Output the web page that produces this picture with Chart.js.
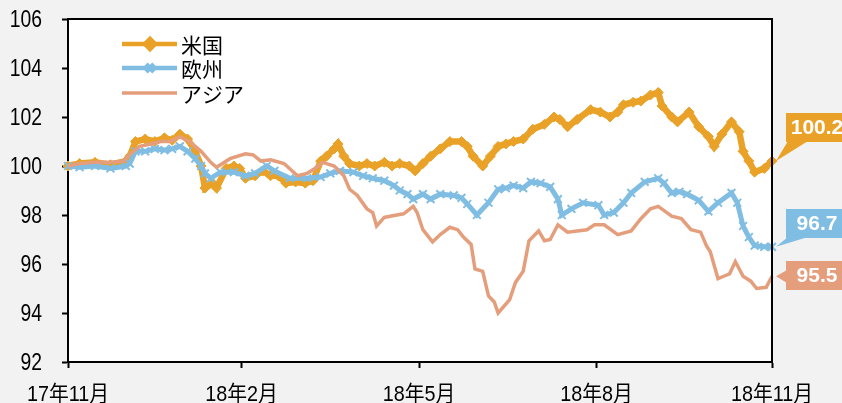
<!DOCTYPE html>
<html>
<head>
<meta charset="utf-8">
<script src="https://cdn.jsdelivr.net/npm/chart.js@4/dist/chart.umd.min.js"></script>
<style>
  html, body { margin: 0; padding: 0; background: #f2f2f2; }
</style>
</head>
<body>
<canvas id="myChart" width="842" height="403"></canvas>
<script>
// x = days since 2017-11-01
const tickDays = [0, 90, 182, 274, 365];
const tickLabels = ["17年11月", "18年2月", "18年5月", "18年8月", "18年11月"];
const yTicks = [92, 94, 96, 98, 100, 102, 104, 106];
const seriesNames = ["米国", "欧州", "アジア"];
const seriesColors = ["#e9a227", "#80bde3", "#e59e7c"];

const usDays = [0,6,14,22,30,32,35,40,45,50,54,58,62,66,69,71,75,77,82,86,89,92,97,101,105,109,113,118,123,127,131,134,138,140,143,146,151,155,159,164,168,172,177,180,184,188,193,198,204,207,210,215,219,223,227,231,236,241,247,252,255,259,264,271,276,281,285,288,293,297,302,306,308,313,316,322,327,332,335,339,344,348,350,353,356,361,365];
const usValues = [100.0,100.1,100.15,100.05,100.2,100.4,101.0,101.1,101.0,101.15,101.05,101.3,101.1,100.6,100.0,99.1,99.3,99.1,99.9,100.0,99.9,99.5,99.6,99.8,99.6,99.6,99.3,99.35,99.3,99.4,100.2,100.4,100.7,100.9,100.4,100.1,100.0,100.1,100.0,100.15,100.0,100.1,100.0,99.8,100.1,100.4,100.7,101.0,101.0,100.8,100.4,100.0,100.4,100.8,100.9,101.0,101.1,101.5,101.7,102.0,101.9,101.6,101.9,102.3,102.2,102.0,102.2,102.5,102.6,102.65,102.9,103.0,102.45,102.0,101.8,102.2,101.6,101.2,100.8,101.3,101.8,101.4,100.6,100.2,99.75,99.9,100.2];

const euDays = [0,6,14,22,30,32,35,40,45,50,54,58,62,66,69,71,74,79,86,92,97,103,107,115,124,131,136,141,148,153,158,164,169,172,176,179,184,188,193,200,204,207,212,218,223,227,231,236,240,245,250,254,256,261,267,275,278,283,288,292,299,306,309,313,317,321,327,332,337,344,347,350,353,356,361,365];
const euValues = [100.0,99.95,100.0,99.9,100.0,100.1,100.6,100.6,100.7,100.65,100.7,100.8,100.6,100.3,100.0,99.7,99.5,99.75,99.75,99.6,99.7,100.0,99.8,99.5,99.5,99.55,99.7,99.8,99.75,99.6,99.5,99.4,99.2,99.0,98.85,98.65,98.85,98.65,98.85,98.8,98.7,98.45,98.0,98.5,99.05,99.1,99.2,99.1,99.35,99.3,99.15,98.65,98.0,98.25,98.5,98.4,98.0,98.1,98.5,98.9,99.35,99.5,99.3,98.9,98.95,98.85,98.6,98.15,98.5,98.9,98.5,97.55,97.1,96.75,96.7,96.7];

const asDays = [0,6,14,22,29,31,37,43,48,53,58,63,69,74,77,84,92,96,100,105,112,119,124,128,132,138,143,146,150,155,158,160,164,167,174,179,181,184,189,193,198,202,205,209,211,215,218,221,223,229,232,236,239,244,247,250,254,259,264,269,273,278,285,292,297,302,306,313,318,323,328,331,333,337,340,343,346,350,354,357,362,365];
const asValues = [100.0,100.1,100.15,100.15,100.2,100.4,100.8,100.9,101.0,101.0,101.2,101.0,100.6,100.15,99.95,100.3,100.5,100.45,100.2,100.25,100.1,99.6,99.7,99.9,100.15,100.0,99.6,99.05,98.8,98.25,98.1,97.55,97.9,97.95,98.05,98.35,98.1,97.4,96.9,97.2,97.5,97.4,97.1,96.8,95.8,95.7,94.7,94.45,94.0,94.55,95.25,95.7,96.95,97.35,96.95,97.0,97.6,97.3,97.35,97.4,97.6,97.6,97.2,97.35,97.85,98.25,98.35,97.95,97.85,97.4,97.3,96.75,96.5,95.4,95.5,95.6,96.1,95.5,95.3,95.0,95.05,95.5];

const endLabels = ["100.2", "96.7", "95.5"];

function toPoints(days, values) {
  return days.map((d, i) => ({ x: d, y: values[i] }));
}

const LABEL_FONT = "'Liberation Sans', 'Noto Sans CJK JP', sans-serif";

// narrow-looking text: draw with a horizontal squeeze
function squeezedText(ctx, text, x, y, align, sx) {
  ctx.save();
  ctx.translate(x, y);
  ctx.scale(sx, 1);
  ctx.textAlign = align;
  ctx.fillText(text, 0, 0);
  ctx.restore();
}

const chartDecor = {
  id: "chartDecor",
  beforeDraw(chart) {
    const { ctx, chartArea: a } = chart;
    ctx.save();
    ctx.fillStyle = "#f2f2f2";
    ctx.fillRect(0, 0, chart.width, chart.height);
    ctx.fillStyle = "#ffffff";
    ctx.fillRect(a.left, a.top, a.right - a.left, a.bottom - a.top);
    ctx.restore();
  },
  afterDraw(chart) {
    const { ctx, chartArea: a } = chart;
    const xs = chart.scales.x, ys = chart.scales.y;
    ctx.save();
    // frame top / right
    ctx.strokeStyle = "#000";
    ctx.lineWidth = 2;
    ctx.beginPath();
    ctx.moveTo(a.left, a.top);
    ctx.lineTo(a.right, a.top);
    ctx.lineTo(a.right, a.bottom);
    ctx.stroke();

    // axis labels
    ctx.fillStyle = "#000";
    ctx.textBaseline = "alphabetic";
    ctx.font = "23px " + LABEL_FONT;
    yTicks.forEach(v => {
      squeezedText(ctx, String(v), 42, ys.getPixelForValue(v) + 8, "right", 0.84);
    });
    ctx.font = "22px " + LABEL_FONT;
    tickDays.forEach((d, i) => {
      squeezedText(ctx, tickLabels[i], xs.getPixelForValue(d), 401, "center", 0.9);
    });

    // legend
    const rows = [44, 68, 93];
    chart.data.datasets.forEach((ds, i) => {
      const y = rows[i];
      ctx.strokeStyle = ds.borderColor;
      ctx.lineWidth = Math.min(ds.borderWidth, 4.5);
      ctx.beginPath();
      ctx.moveTo(122, y);
      ctx.lineTo(177, y);
      ctx.stroke();
      if (ds.pointRadius > 0) {
        ctx.fillStyle = ds.pointBackgroundColor;
        ctx.strokeStyle = ds.pointBorderColor;
        Chart.helpers.drawPoint(ctx, {
          pointStyle: ds.pointStyle, radius: ds.pointRadius, borderWidth: ds.pointBorderWidth, rotation: 0
        }, 150, y);
      }
      ctx.fillStyle = "#000";
      ctx.font = "21px 'Noto Sans CJK JP', sans-serif";
      ctx.textBaseline = "middle";
      ctx.textAlign = "left";
      ctx.fillText(ds.label, 181, y + 1);
    });

    // end value call-outs
    const boxTops = [113, 209, 261];
    const boxH = 29;
    const boxL = 786;
    chart.data.datasets.forEach((ds, i) => {
      const meta = chart.getDatasetMeta(i);
      const last = meta.data[meta.data.length - 1];
      const tx = last.x + 4, ty = last.y;
      const top = boxTops[i];
      ctx.fillStyle = seriesColors[i];
      ctx.beginPath();
      if (i === 2) {
        ctx.moveTo(boxL + 1, top + 9);
        ctx.lineTo(tx, ty);
        ctx.lineTo(boxL + 1, top + 22);
      } else {
        ctx.moveTo(boxL + 2, top + boxH - 1);
        ctx.lineTo(tx, ty);
        ctx.lineTo(boxL + 22, top + boxH - 1);
      }
      ctx.closePath();
      ctx.fill();
      ctx.fillRect(boxL, top, 70, boxH);
      ctx.fillStyle = "#fff";
      ctx.font = "bold 21px 'Liberation Sans', Arial, sans-serif";
      ctx.textAlign = "center";
      ctx.textBaseline = "middle";
      ctx.fillText(endLabels[i], 817, top + boxH / 2 + 1);
    });
    ctx.restore();
  }
};

new Chart("myChart", {
  type: "line",
  data: {
    datasets: [
      {
        label: seriesNames[0],
        data: toPoints(usDays, usValues),
        borderColor: seriesColors[0],
        borderWidth: 6.5,
        pointStyle: "rectRot",
        pointRadius: 5,
        pointBackgroundColor: seriesColors[0],
        pointBorderColor: seriesColors[0],
        pointBorderWidth: 1,
        order: 3,
        clip: false
      },
      {
        label: seriesNames[1],
        data: toPoints(euDays, euValues),
        borderColor: seriesColors[1],
        borderWidth: 5,
        pointStyle: "crossRot",
        pointRadius: 5.5,
        pointBackgroundColor: seriesColors[1],
        pointBorderColor: seriesColors[1],
        pointBorderWidth: 2,
        order: 2,
        clip: false
      },
      {
        label: seriesNames[2],
        data: toPoints(asDays, asValues),
        borderColor: seriesColors[2],
        borderWidth: 3.5,
        pointRadius: 0,
        order: 1,
        clip: false
      }
    ]
  },
  options: {
    responsive: false,
    animation: false,
    events: [],
    layout: { padding: { left: 0, right: 70, top: 19, bottom: 0 } },
    plugins: {
      legend: { display: false },
      tooltip: { enabled: false }
    },
    scales: {
      x: {
        type: "linear",
        min: 0,
        max: 365,
        afterBuildTicks(scale) {
          scale.ticks = tickDays.map(v => ({ value: v }));
        },
        afterFit(scale) {
          scale.height = 41;
          scale.paddingLeft = 0;
          scale.paddingRight = 0;
        },
        ticks: { display: false },
        grid: { drawOnChartArea: false, drawTicks: true, tickLength: 6, color: "#000", tickWidth: 2 },
        border: { display: true, color: "#000", width: 2 }
      },
      y: {
        min: 92,
        max: 106,
        afterBuildTicks(scale) {
          scale.ticks = yTicks.map(v => ({ value: v }));
        },
        afterFit(scale) {
          scale.width = 68;
          scale.paddingTop = 0;
          scale.paddingBottom = 0;
        },
        ticks: { display: false },
        grid: { drawOnChartArea: false, drawTicks: true, tickLength: 6, color: "#000", tickWidth: 2 },
        border: { display: true, color: "#000", width: 2 }
      }
    }
  },
  plugins: [chartDecor]
});
</script>
</body>
</html>
